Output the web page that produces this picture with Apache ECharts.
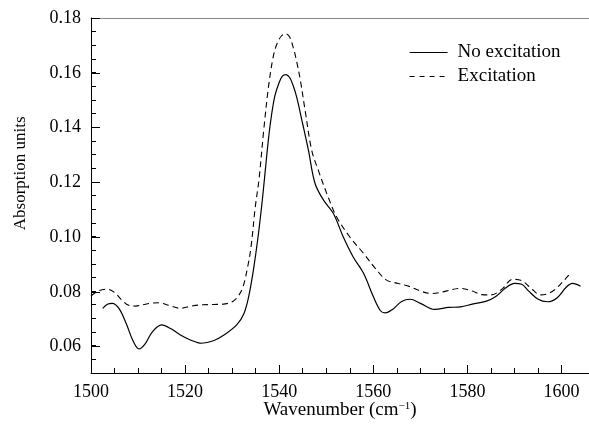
<!DOCTYPE html>
<html>
<head>
<meta charset="utf-8">
<script src="https://cdn.jsdelivr.net/npm/echarts@6/dist/echarts.min.js"></script>
<style>html,body{margin:0;padding:0;background:#fff}#c{width:589px;height:431px}</style>
</head>
<body>
<div id="c"></div>
<script>
const noExcWn = [1502.5,1503.5,1504.5,1506,1507.5,1509,1510.2,1511.5,1513,1515,1517,1519,1521,1523.5,1526,1528.5,1531,1532.5,1533.5,1534.5,1535.5,1536.5,1537.3,1538,1539,1540,1540.7,1541.4,1542.2,1543,1543.7,1545,1546.2,1547.6,1549.4,1551.5,1553.6,1555.7,1557.9,1560,1561.5,1562.5,1564,1566,1567.8,1570,1573,1576,1578.5,1581,1584,1586,1588,1590,1591.5,1593,1595,1597,1599,1601,1602.3,1604];
const noExcVal = [0.0737,0.0752,0.0755,0.0735,0.068,0.0615,0.0588,0.0607,0.065,0.0676,0.0662,0.0639,0.0622,0.0609,0.0618,0.0642,0.0677,0.0718,0.078,0.0877,0.100,0.115,0.129,0.140,0.151,0.1565,0.1588,0.1593,0.1582,0.155,0.151,0.141,0.1315,0.1194,0.1133,0.1084,0.0998,0.0925,0.0865,0.0779,0.0728,0.072,0.0732,0.0762,0.077,0.0755,0.0733,0.074,0.0742,0.0752,0.0763,0.078,0.081,0.0828,0.0825,0.080,0.077,0.0761,0.0775,0.0815,0.0828,0.0818];
const excWn = [1500,1501.5,1503.3,1505,1506.5,1508,1509.5,1511,1513,1514.5,1516.5,1519,1521,1523,1526,1528.5,1530.2,1531.3,1532.3,1533.3,1534,1534.9,1535.7,1536.7,1537.7,1538.7,1539.5,1540.5,1541.4,1542.2,1543,1543.7,1544.5,1545.5,1546.9,1548.3,1550.1,1552.2,1555,1557.9,1560.7,1562.8,1565.3,1567.8,1570,1572.4,1575,1578.4,1581,1583,1585,1587.5,1589.5,1591.5,1593.5,1595.5,1597,1598.5,1600,1601.5];
const excVal = [0.0782,0.080,0.0807,0.0795,0.0768,0.0748,0.0745,0.075,0.0756,0.0757,0.0748,0.0737,0.0744,0.0749,0.0751,0.0753,0.0763,0.0782,0.0816,0.089,0.0962,0.1108,0.121,0.139,0.1547,0.1657,0.1705,0.1735,0.1742,0.173,0.169,0.164,0.157,0.146,0.1315,0.1242,0.1157,0.1071,0.0998,0.0938,0.0877,0.084,0.0828,0.0816,0.080,0.0791,0.0798,0.081,0.080,0.0787,0.0786,0.081,0.0843,0.0838,0.081,0.0786,0.079,0.0805,0.083,0.0858];
const seriesNames = ['No excitation','Excitation'];
const xTitle = 'Wavenumber (cm{sup|\u22121})';
const yTitle = 'Absorption units';

const FONT = "'Liberation Serif','Times New Roman',serif";
const chart = echarts.init(document.getElementById('c'), null, {renderer:'canvas'});
const pairs = (xs, ys) => xs.map((x, i) => [x, ys[i]]);
chart.setOption({
  animation: false,
  textStyle: {fontFamily: FONT, color: '#000'},
  grid: [
    {left: 91, right: 0, top: 18, bottom: 58, outerBoundsMode: 'none', containLabel: false},
    {left: 91, width: 470.5, top: 18, bottom: 58, outerBoundsMode: 'none', containLabel: false},
    {left: 91, right: 0, top: 18, bottom: 84.3, outerBoundsMode: 'none', containLabel: false}
  ],
  legend: {
    orient: 'vertical', left: 404, top: 38, itemWidth: 38, itemHeight: 14, itemGap: 5,
    itemStyle: {opacity: 0, borderWidth: 0},
    textStyle: {fontFamily: FONT, fontSize: 19, color: '#000', padding: [0,0,0,5]},
    data: [
      {name: seriesNames[0], lineStyle: {type: 'solid', width: 1.2}},
      {name: seriesNames[1], lineStyle: {type: [5,5], width: 1.1}}
    ]
  },
  xAxis: [
    {gridIndex: 0, type: 'value', min: 1500, max: 1605.8, position: 'bottom',
     axisLine: {show: true, onZero: false, lineStyle: {color: '#000', width: 1}},
     axisTick: {show: false}, axisLabel: {show: false}, splitLine: {show: false},
     name: xTitle, nameLocation: 'middle', nameGap: 28, nameMoveOverlap: false,
     nameTextStyle: {fontFamily: FONT, fontSize: 19, color: '#000',
       rich: {sup: {fontFamily: FONT, fontSize: 11, color: '#000', verticalAlign: 'top', padding: [0,0,8,0]}}}},
    {gridIndex: 0, type: 'value', min: 1500, max: 1605.8, position: 'top',
     axisLine: {show: true, onZero: false, lineStyle: {color: '#888', width: 1}},
     axisTick: {show: false}, axisLabel: {show: false}, splitLine: {show: false}},
    {gridIndex: 1, type: 'value', min: 1500, max: 1600, interval: 20, position: 'bottom',
     axisLine: {show: false, onZero: false},
     axisTick: {show: true, inside: true, length: 8, lineStyle: {color: '#000', width: 1}},
     minorTick: {show: true, splitNumber: 4, length: 5, lineStyle: {color: '#000', width: 1}},
     axisLabel: {show: true, margin: 10, fontFamily: FONT, fontSize: 18, color: '#000',
       formatter: v => String(Math.round(v))},
     splitLine: {show: false}},
    {gridIndex: 2, type: 'value', min: 0, max: 1, show: false}
  ],
  yAxis: [
    {gridIndex: 0, type: 'value', min: 0.05, max: 0.18, interval: 0.005,
     axisLine: {show: true, onZero: false, lineStyle: {color: '#000', width: 1}},
     axisTick: {show: true, inside: true, length: 5, lineStyle: {color: '#000', width: 1}},
     axisLabel: {show: false}, splitLine: {show: false}},
    {gridIndex: 1, type: 'value', min: 0, max: 1, show: false},
    {gridIndex: 2, type: 'value', min: 0.06, max: 0.18, interval: 0.02,
     axisLine: {show: false, onZero: false},
     axisTick: {show: true, inside: true, length: 9, lineStyle: {color: '#000', width: 1}},
     axisLabel: {show: true, margin: 10, fontFamily: FONT, fontSize: 18, color: '#000',
       formatter: v => v.toFixed(2)},
     splitLine: {show: false},
     name: yTitle, nameLocation: 'middle', nameGap: 62, nameRotate: 90, nameMoveOverlap: false,
     nameTextStyle: {fontFamily: FONT, fontSize: 17, color: '#000', padding: [0,0,0,18]}}
  ],
  series: [
    {name: seriesNames[0], type: 'line', xAxisIndex: 0, yAxisIndex: 0, data: pairs(noExcWn, noExcVal),
     smooth: 0.35, symbol: 'none', showSymbol: false, lineStyle: {color: '#000', width: 1.2, type: 'solid'},
     itemStyle: {color: '#000'}, clip: true},
    {name: seriesNames[1], type: 'line', xAxisIndex: 0, yAxisIndex: 0, data: pairs(excWn, excVal),
     smooth: 0.35, symbol: 'none', showSymbol: false, lineStyle: {color: '#000', width: 1.1, type: [6,4]},
     itemStyle: {color: '#000'}, clip: true}
  ]
});
</script>
</body>
</html>
